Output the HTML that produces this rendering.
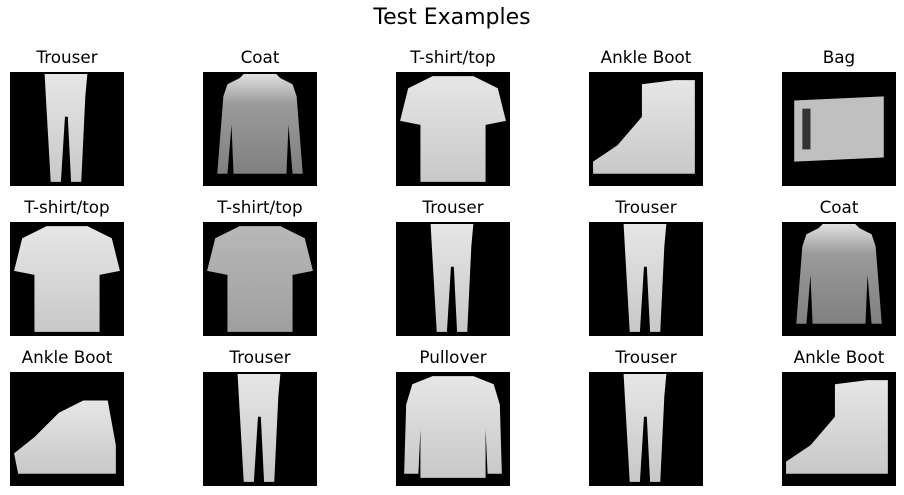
<!DOCTYPE html>
<html><head><style>
body{margin:0;background:#fff;width:904px;height:495px;position:relative;font-family:"DejaVu Sans","Liberation Sans",sans-serif;overflow:hidden}
.t{position:absolute;font-size:16.8px;color:#000;width:200px;text-align:center}
.h{position:absolute;top:5px;left:0;width:904px;text-align:center;font-size:22px}
svg.i{position:absolute;width:114px;height:114px;background:#000}
</style></head><body>
<div class="h">Test Examples</div>
<svg width="0" height="0" style="position:absolute">
<defs>
<linearGradient id="g" x1="0" y1="0" x2="0" y2="1"><stop offset="0" stop-color="#e6e6e6"/><stop offset="1" stop-color="#c8c8c8"/></linearGradient>
<linearGradient id="g2" x1="0" y1="0" x2="0" y2="1"><stop offset="0" stop-color="#e0e0e0"/><stop offset="0.3" stop-color="#9a9a9a"/><stop offset="1" stop-color="#808080"/></linearGradient>
<symbol id="tr" viewBox="0 0 28 28"><path d="M8.5,0.5 L19,0.5 L18.5,6 L17.5,27 L15,27 L14.2,11 L13.5,11 L12.5,27 L10,27 L8.8,6 Z" fill="url(#g)"/></symbol>
<symbol id="co" viewBox="0 0 28 28"><path d="M10,0.5 L18,0.5 L19,1.5 L22,3 L23,6 L24.5,25 L22,25 L21,13 L20.5,25 L7.5,25 L7,13 L6,25 L3.5,25 L5,6 L6,3 L9,1.5 Z" fill="url(#g2)"/></symbol>
<symbol id="ts" viewBox="0 0 28 28"><path d="M9,1 L19,1 L25,4 L27,12 L22,13 L22,27 L6,27 L6,13 L1,12 L3,4 Z" fill="url(#g)"/></symbol>
<symbol id="bo" viewBox="0 0 28 28"><path d="M21,2 L26,2 L26,25 L1,25 L1,22 L7,18 L13,11 L13,3 Z" fill="url(#g)"/></symbol>
<symbol id="bg" viewBox="0 0 28 28"><path d="M3,7 L25,6 L25,21 L3,22 Z" fill="#c0c0c0"/><path d="M5,9 L7,9 L7,19 L5,19Z" fill="#333"/></symbol>
<symbol id="pu" viewBox="0 0 28 28"><path d="M9,1 L19,1 L24,3 L25.5,8 L26,25 L22.5,25 L22,14 L22,26 L6,26 L6,14 L5.5,25 L2,25 L2.5,8 L4,3 Z" fill="url(#g)"/></symbol>
<symbol id="bs" viewBox="0 0 28 28"><path d="M18,7 L24,7 L26,18 L26,25 L2,25 L1,20 L6,16 L12,10 Z" fill="url(#g)"/></symbol>
</defs></svg>

<div class="t" style="left:-33px;top:47px">Trouser</div>
<div class="t" style="left:160px;top:47px">Coat</div>
<div class="t" style="left:353px;top:47px">T-shirt/top</div>
<div class="t" style="left:546px;top:47px">Ankle Boot</div>
<div class="t" style="left:739px;top:47px">Bag</div>
<svg class="i" style="left:10px;top:72px"><use href="#tr" width="114" height="114"/></svg>
<svg class="i" style="left:203px;top:72px"><use href="#co" width="114" height="114"/></svg>
<svg class="i" style="left:396px;top:72px"><use href="#ts" width="114" height="114"/></svg>
<svg class="i" style="left:589px;top:72px"><use href="#bo" width="114" height="114"/></svg>
<svg class="i" style="left:782px;top:72px"><use href="#bg" width="114" height="114"/></svg>

<div class="t" style="left:-33px;top:197px">T-shirt/top</div>
<div class="t" style="left:160px;top:197px">T-shirt/top</div>
<div class="t" style="left:353px;top:197px">Trouser</div>
<div class="t" style="left:546px;top:197px">Trouser</div>
<div class="t" style="left:739px;top:197px">Coat</div>
<svg class="i" style="left:10px;top:222px"><use href="#ts" width="114" height="114"/></svg>
<svg class="i" style="left:203px;top:222px"><use href="#ts" width="114" height="114" opacity="0.8"/></svg>
<svg class="i" style="left:396px;top:222px"><use href="#tr" width="114" height="114"/></svg>
<svg class="i" style="left:589px;top:222px"><use href="#tr" width="114" height="114"/></svg>
<svg class="i" style="left:782px;top:222px"><use href="#co" width="114" height="114"/></svg>

<div class="t" style="left:-33px;top:347px">Ankle Boot</div>
<div class="t" style="left:160px;top:347px">Trouser</div>
<div class="t" style="left:353px;top:347px">Pullover</div>
<div class="t" style="left:546px;top:347px">Trouser</div>
<div class="t" style="left:739px;top:347px">Ankle Boot</div>
<svg class="i" style="left:10px;top:372px"><use href="#bs" width="114" height="114"/></svg>
<svg class="i" style="left:203px;top:372px"><use href="#tr" width="114" height="114"/></svg>
<svg class="i" style="left:396px;top:372px"><use href="#pu" width="114" height="114"/></svg>
<svg class="i" style="left:589px;top:372px"><use href="#tr" width="114" height="114"/></svg>
<svg class="i" style="left:782px;top:372px"><use href="#bo" width="114" height="114"/></svg>
</body></html>
